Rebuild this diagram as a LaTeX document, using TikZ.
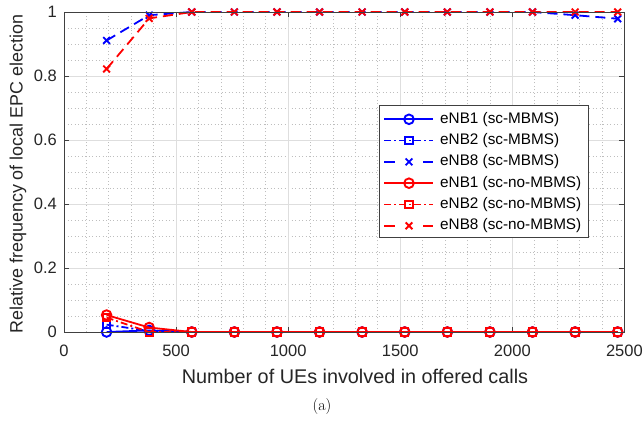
\documentclass[tikz,border=0pt]{standalone}
\usepackage{fontspec}
\newfontfamily\arialf{Liberation Sans}
\usetikzlibrary{plotmarks}
\definecolor{axgray}{RGB}{64,64,64}
\definecolor{majgrid}{RGB}{222,222,222}
\definecolor{mingrid}{RGB}{190,190,190}
\tikzset{
  ticklbl/.style={font=\arialf\fontsize{16.5}{18}\selectfont, text=black!85, inner sep=0pt},
  axlbl/.style={font=\arialf\fontsize{19.8}{21}\selectfont, text=black!85, inner sep=0pt},
  aylbl/.style={font=\arialf\fontsize{17.9}{20}\selectfont, text=black!85, inner sep=0pt},
  leglbl/.style={font=\arialf\fontsize{15.3}{17}\selectfont, text=black, inner sep=0pt, anchor=west},
  series/.style={line width=1.8pt},
  dashdotline/.style={dash pattern=on 7pt off 3pt on 2pt off 3pt},
  dashline/.style={dash pattern=on 10pt off 6pt},
  mo/.style={mark=o, mark size=4.8pt, mark options={solid, line width=1.9pt}},
  msq/.style={mark=square, mark size=3.7pt, mark options={solid, line width=1.7pt}},
  mx/.style={mark=x, mark size=4.8pt, mark options={solid, line width=1.9pt}},
}
\begin{document}
\begin{tikzpicture}[x=1pt,y=1pt]
\useasboundingbox (0,0) rectangle (643,424);
\fill[white] (0,0) rectangle (643,424);
\begin{scope}[shift={(64pt,92pt)}, x=0.22416pt, y=320pt]
  % minor grid
  \foreach \v in {100,200,...,2400} {
    \draw[mingrid, line width=0.7pt, dash pattern=on 1pt off 2.5pt] (\v,0) -- (\v,1);
  }
  \foreach \v in {0.05,0.1,...,0.96} {
    \draw[mingrid, line width=0.7pt, dash pattern=on 1pt off 2.5pt] (0,\v) -- (2500,\v);
  }
  % major grid
  \foreach \v in {500,1000,1500,2000} {
    \draw[majgrid, line width=0.9pt] (\v,0) -- (\v,1);
  }
  \foreach \v in {0.2,0.4,0.6,0.8} {
    \draw[majgrid, line width=0.9pt] (0,\v) -- (2500,\v);
  }
  % ticks
  \foreach \v in {0,500,1000,1500,2000,2500} {
    \draw[axgray, line width=0.8pt] (\v,0) -- ++(0,5pt);
    \draw[axgray, line width=0.8pt] (\v,1) -- ++(0,-5pt);
    \node[ticklbl] (xt\v) at (\v,-19pt) {\v};
  }
  \foreach \v/\l in {0/0,0.2/0.2,0.4/0.4,0.6/0.6,0.8/0.8,1/1} {
    \draw[axgray, line width=0.8pt] (0,\v) -- ++(5pt,0);
    \draw[axgray, line width=0.8pt] (2500,\v) -- ++(-5pt,0);
    \node[ticklbl, anchor=east] (yt\l) at ([xshift=-7pt]0,\v) {\l};
  }
  % data: blue
  \draw[blue, series, mo] plot coordinates {(190,0) (380,0.005) (570,0) (760,0) (950,0) (1140,0) (1330,0) (1520,0) (1710,0) (1900,0) (2090,0) (2280,0) (2470,0)};
  \draw[blue, series, dashdotline, msq] plot coordinates {(190,0.023) (380,0.003) (570,0) (760,0) (950,0) (1140,0) (1330,0) (1520,0) (1710,0) (1900,0) (2090,0) (2280,0) (2470,0)};
  \draw[blue, series, dashline, mx] plot coordinates {(190,0.911) (380,0.99) (570,1) (760,1) (950,1) (1140,1) (1330,1) (1520,1) (1710,1) (1900,1) (2090,1) (2280,0.99) (2470,0.979)};
  % data: red
  \draw[red, series, mo] plot coordinates {(190,0.053) (380,0.014) (570,0) (760,0) (950,0) (1140,0) (1330,0) (1520,0) (1710,0) (1900,0) (2090,0) (2280,0) (2470,0)};
  \draw[red, series, dashdotline, msq] plot coordinates {(190,0.045) (380,0) (570,0) (760,0) (950,0) (1140,0) (1330,0) (1520,0) (1710,0) (1900,0) (2090,0) (2280,0) (2470,0)};
  \draw[red, series, dashline, mx] plot coordinates {(190,0.822) (380,0.98) (570,1) (760,1) (950,1) (1140,1) (1330,1) (1520,1) (1710,1) (1900,1) (2090,1) (2280,1) (2470,1)};
  % axes box
  \draw[axgray, line width=0.9pt] (0,0) rectangle (2500,1);
\end{scope}
% legend
\node[draw=axgray, fill=white, line width=0.8pt, minimum width=209.6pt, minimum height=132pt, inner sep=0pt, anchor=north west] (legbox) at (378.7,318.7) {};
\foreach \yy/\c/\k/\t in {304.7/blue/1/eNB1 (sc-MBMS), 283.4/blue/2/eNB2 (sc-MBMS), 262.1/blue/8/eNB8 (sc-MBMS), 240.8/red/1/eNB1 (sc-no-MBMS), 219.5/red/2/eNB2 (sc-no-MBMS), 198.2/red/8/eNB8 (sc-no-MBMS)} {
  \node[leglbl] (lt\c\k) at (440,\yy) {\t};
}
\draw[blue, series] (384,304.7) -- (433,304.7);
\draw[blue, series, mo] plot coordinates {(409,304.7)};
\draw[blue, series, dashdotline] (384,283.4) -- (433,283.4);
\draw[blue, series, msq] plot coordinates {(409,283.4)};
\draw[blue, series] (384,262.1) -- (395,262.1) (423,262.1) -- (433,262.1);
\draw[blue, series, mx] plot coordinates {(409,262.1)};
\draw[red, series] (384,240.8) -- (433,240.8);
\draw[red, series, mo] plot coordinates {(409,240.8)};
\draw[red, series, dashdotline] (384,219.5) -- (433,219.5);
\draw[red, series, msq] plot coordinates {(409,219.5)};
\draw[red, series] (384,198.2) -- (395,198.2) (423,198.2) -- (433,198.2);
\draw[red, series, mx] plot coordinates {(409,198.2)};
% axis labels
\node[axlbl] (xlabel) at (355,48) {Number of UEs involved in offered calls};
\node[aylbl, rotate=90] (ylabel) at (18,250) {Relative frequency of local EPC election};
\node[font=\fontsize{16}{18}\selectfont, inner sep=0pt] (cap) at (322,17) {(a)};
\end{tikzpicture}
\end{document}
